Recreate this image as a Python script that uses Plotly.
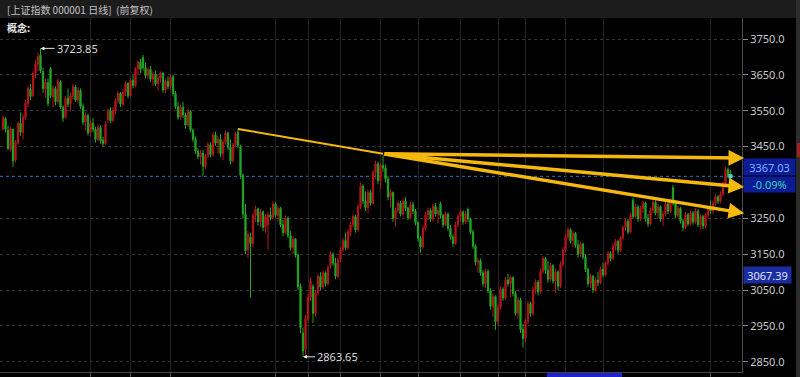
import plotly.graph_objects as go

# ---------------- data ----------------
opens = [
    3500,3528,3495,3442,3498,3412,3460,3515,3490,3530,
    3570,3610,3592,3655,3680,3705,3660,3610,3628,3668,
    3590,3612,3575,3630,3560,3532,3585,3570,3590,3616,
    3580,3606,3562,3518,3536,3490,3515,3498,3470,3503,
    3468,3458,3525,3550,3522,3552,3578,3598,3568,3602,
    3626,3592,3635,3620,3668,3685,3698,3670,3648,3665,
    3638,3652,3625,3642,3655,3608,3632,3618,3645,3598,
    3562,3532,3560,3538,3510,3548,3496,3470,3438,3422,
    3432,3395,3425,3455,3428,3482,3460,3470,3430,3462,
    3488,3448,3410,3455,3490,3450,3370,3262,3162,3198,
    3180,3258,3276,3240,3268,3225,3232,3260,3252,3290,
    3258,3278,3232,3210,3250,3202,3168,3192,3148,3060,
    2930,2885,2970,3030,3060,2985,3042,3088,3058,3098,
    3068,3118,3150,3125,3088,3135,3162,3188,3168,3212,
    3232,3255,3218,3282,3340,3298,3280,3322,3292,3378,
    3402,3355,3398,3390,3360,3310,3322,3250,3272,3292,
    3262,3298,3278,3252,3288,3270,3238,3195,3170,3222,
    3260,3272,3248,3284,3262,3290,3258,3232,3262,3222,
    3198,3180,3232,3255,3268,3240,3275,3248,3212,3172,
    3128,3132,3098,3068,3102,3048,3005,3032,2962,3002,
    3052,3028,3078,3068,3085,3040,2985,3022,2940,2915,
    2962,3012,2985,3052,3072,3045,3102,3138,3105,3080,
    3118,3075,3100,3060,3122,3162,3198,3218,3188,3208,
    3175,3150,3178,3142,3108,3068,3088,3050,3078,3070,
    3108,3092,3125,3152,3138,3172,3185,3160,3195,3224,
    3242,3212,3300,3255,3282,3248,3278,3292,3250,3235,
    3272,3295,3265,3282,3248,3262,3290,3270,3335,3292,
    3258,3278,3242,3225,3260,3235,3265,3240,3270,3232,
    3255,3228,3258,3278,3270,3292,3310,3298,3318,3345,
    3386,3372,
]
highs = [
    3538,3532,3508,3505,3500,3468,3520,3545,3540,3580,
    3620,3625,3660,3690,3712,3723.85,3670,3640,3640,3672,
    3620,3618,3640,3635,3565,3590,3612,3600,3625,3622,
    3615,3612,3570,3545,3542,3525,3530,3505,3512,3510,
    3478,3520,3556,3560,3560,3585,3605,3602,3610,3632,
    3630,3640,3650,3672,3690,3695,3706,3685,3672,3675,
    3660,3662,3650,3660,3658,3640,3645,3650,3650,3605,
    3575,3568,3575,3545,3555,3552,3500,3478,3445,3440,
    3440,3430,3462,3462,3490,3492,3480,3485,3470,3495,
    3492,3470,3460,3492,3499,3455,3375,3290,3215,3210,
    3265,3285,3280,3275,3272,3262,3268,3280,3298,3295,
    3285,3282,3245,3258,3255,3215,3200,3195,3152,3068,
    2945,2980,3040,3085,3066,3050,3095,3100,3105,3102,
    3120,3158,3155,3140,3140,3170,3195,3210,3220,3240,
    3262,3260,3290,3350,3345,3325,3330,3330,3385,3410,
    3408,3405,3427,3400,3368,3330,3325,3280,3300,3298,
    3305,3310,3282,3295,3296,3276,3242,3200,3230,3268,
    3280,3278,3290,3293,3280,3296,3262,3268,3266,3232,
    3205,3240,3262,3275,3272,3270,3280,3252,3218,3178,
    3140,3138,3105,3110,3108,3055,3040,3035,3010,3060,
    3058,3085,3095,3090,3088,3048,3030,3028,2955,2970,
    3020,3018,3060,3080,3078,3110,3145,3142,3130,3125,
    3122,3110,3105,3130,3170,3205,3226,3222,3215,3212,
    3190,3185,3182,3150,3112,3095,3092,3085,3100,3115,
    3126,3130,3160,3158,3180,3192,3190,3200,3230,3250,
    3248,3265,3307,3290,3288,3285,3300,3296,3262,3280,
    3302,3300,3290,3286,3270,3298,3296,3305,3343,3296,
    3285,3282,3248,3268,3265,3272,3270,3278,3275,3262,
    3260,3265,3285,3300,3300,3318,3315,3325,3352,3394,
    3392,3385,
]
lows = [
    3495,3490,3440,3436,3393,3405,3455,3480,3470,3525,
    3560,3580,3588,3640,3660,3655,3600,3585,3562,3585,
    3560,3565,3570,3555,3519,3528,3560,3548,3582,3575,
    3570,3555,3510,3495,3480,3478,3490,3462,3465,3458,
    3449,3455,3515,3515,3518,3540,3570,3560,3562,3590,
    3585,3588,3612,3615,3650,3655,3662,3640,3638,3630,
    3620,3618,3605,3628,3600,3598,3610,3608,3590,3555,
    3525,3525,3530,3500,3505,3490,3462,3430,3415,3400,
    3366,3388,3418,3420,3422,3452,3430,3420,3412,3455,
    3440,3400,3405,3448,3445,3360,3250,3150,3140,3028,
    3170,3240,3230,3225,3215,3210,3162,3245,3248,3250,
    3240,3225,3200,3205,3195,3160,3150,3140,3050,2930,
    2863.65,2870,2962,3020,2958,2975,3035,3050,3052,3060,
    3062,3110,3118,3080,3082,3128,3155,3160,3162,3200,
    3225,3210,3212,3275,3290,3270,3265,3285,3288,3360,
    3345,3330,3380,3350,3300,3280,3240,3226,3265,3255,
    3258,3270,3245,3248,3262,3230,3185,3154,3165,3215,
    3245,3240,3242,3255,3235,3250,3225,3228,3215,3190,
    3171,3176,3225,3240,3232,3234,3240,3205,3165,3118,
    3098,3090,3060,3055,3040,2995,2975,2939,2950,2995,
    3020,3022,3060,3030,3032,2978,2970,2930,2889,2905,
    2955,2975,2978,3040,3035,3040,3095,3095,3070,3075,
    3068,3042,3050,3055,3115,3155,3190,3180,3170,3168,
    3140,3142,3135,3100,3060,3055,3042,3045,3060,3065,
    3085,3088,3118,3130,3132,3160,3150,3155,3188,3215,
    3205,3208,3248,3250,3240,3242,3265,3240,3226,3230,
    3265,3258,3248,3240,3228,3255,3262,3265,3285,3250,
    3250,3235,3215,3220,3228,3230,3232,3235,3225,3218,
    3220,3222,3250,3262,3262,3285,3290,3292,3312,3340,
    3362,3352,
]
closes = [
    3530,3498,3445,3500,3410,3462,3515,3490,3532,3572,
    3612,3590,3655,3680,3702,3662,3612,3630,3570,3592,
    3612,3575,3632,3560,3530,3585,3568,3592,3618,3580,
    3608,3562,3518,3538,3488,3515,3498,3470,3505,3466,
    3458,3512,3550,3522,3552,3578,3598,3568,3602,3626,
    3592,3635,3620,3668,3685,3665,3670,3648,3665,3638,
    3652,3625,3642,3655,3608,3632,3618,3645,3598,3562,
    3532,3560,3538,3510,3548,3496,3470,3438,3422,3432,
    3395,3425,3455,3428,3482,3460,3470,3430,3462,3488,
    3448,3410,3455,3485,3452,3370,3262,3160,3205,3180,
    3258,3276,3240,3268,3225,3255,3260,3252,3290,3258,
    3278,3232,3210,3250,3202,3168,3192,3148,3060,2945,
    2880,2970,3030,3075,2985,3042,3088,3058,3098,3068,
    3112,3150,3125,3088,3135,3162,3188,3168,3212,3232,
    3255,3218,3282,3340,3298,3280,3322,3292,3378,3402,
    3355,3398,3390,3360,3310,3322,3250,3272,3292,3262,
    3298,3278,3252,3288,3270,3238,3195,3170,3222,3260,
    3272,3248,3284,3262,3272,3258,3232,3262,3222,3198,
    3180,3232,3255,3268,3240,3262,3248,3212,3172,3128,
    3132,3098,3068,3102,3048,3005,3032,2962,3002,3052,
    3028,3078,3068,3085,3040,2985,3022,2940,2915,2962,
    3012,2985,3052,3072,3045,3102,3138,3105,3080,3118,
    3075,3100,3060,3122,3162,3198,3218,3188,3208,3175,
    3150,3178,3142,3108,3068,3088,3050,3078,3070,3108,
    3092,3125,3152,3138,3172,3185,3160,3195,3224,3242,
    3212,3258,3255,3282,3248,3278,3292,3250,3235,3272,
    3295,3265,3282,3248,3262,3290,3270,3298,3292,3258,
    3278,3242,3225,3260,3235,3265,3240,3270,3232,3255,
    3228,3258,3278,3270,3292,3310,3298,3318,3345,3386,
    3370,3367.03,
]
bar_index = list(range(len(closes)))

price_ticks = [2850, 2950, 3050, 3150, 3250, 3450, 3550, 3650, 3750]
grid_bars = [35, 51, 67, 109, 122, 135, 151, 166, 183, 198, 209, 225, 240, 283]

high_label = (15, 3723.85)
low_label = (120, 2863.65)
last_price = 3367.03
last_change = "-0.09%"
marker_price = 3067.39

# trend lines: thin segment + three arrows fanning out from the July peak
trend_thin = [(94, 3499), (152, 3430)]
arrow_origin = (152, 3430)
arrow_tips = [(296.5, 3418), (296.5, 3337), (296.5, 3264)]

title_text = "[上证指数 000001 日线]&nbsp;&nbsp;(前复权)"
concept_text = "概念:"

# ---------------- styling ----------------
RED = "#b8161c"
GREEN = "#22a824"
YELLOW = "#f5b80c"
W, H = 800, 377
ML, MR, MT, MB = 0, 58, 18, 5
PW, PH = W - ML - MR, H - MT - MB
Y_TOP, Y_BOT = 3808.6, 2821.3
X_LO, X_HI = -1.2, 295.6

fig = go.Figure()
fig.add_trace(go.Candlestick(
    x=bar_index, open=opens, high=highs, low=lows, close=closes,
    increasing=dict(line=dict(color=RED, width=1), fillcolor=RED),
    decreasing=dict(line=dict(color=GREEN, width=1), fillcolor=GREEN),
    whiskerwidth=0, showlegend=False, hoverinfo="skip",
))
fig.add_trace(go.Scatter(
    x=[bar_index[-1]], y=[last_price], mode="markers",
    marker=dict(size=4, color="#3ee0c0", symbol="square"),
    showlegend=False, hoverinfo="skip",
))

shapes = []
# header bar
shapes.append(dict(type="rect", xref="paper", yref="paper", x0=-0.01, x1=W / PW + 0.01,
                   y0=1, y1=1 + MT / PH + 0.01, fillcolor="#1c1c1c", line=dict(width=0), layer="above"))
# right scrollbar strip
shapes.append(dict(type="rect", xref="paper", yref="paper", x0=796 / PW, x1=W / PW + 0.01,
                   y0=-MB / PH - 0.01, y1=1 + MT / PH + 0.01, fillcolor="#2c2c2c", line=dict(width=0), layer="above"))
shapes.append(dict(type="rect", xref="paper", yref="paper", x0=797 / PW, x1=W / PW + 0.01,
                   y0=1 - (157 - MT) / PH, y1=1 - (143 - MT) / PH, fillcolor="#a02020", line=dict(width=0), layer="above"))
# current price dotted line
shapes.append(dict(type="line", xref="paper", yref="y", x0=0, x1=1, y0=last_price, y1=last_price,
                   line=dict(color="#2f6fc0", width=1, dash="dot"), layer="below"))
# thin part of trend line
shapes.append(dict(type="line", xref="x", yref="y",
                   x0=trend_thin[0][0], y0=trend_thin[0][1], x1=trend_thin[1][0], y1=trend_thin[1][1],
                   line=dict(color=YELLOW, width=2)))
# bottom blue scroll marker
shapes.append(dict(type="rect", xref="x", yref="paper", x0=217.6, x1=247.6,
                   y0=-MB / PH, y1=-1 / PH, fillcolor="#1c24c8", line=dict(width=0)))

annotations = []
for tx, ty in arrow_tips:
    annotations.append(dict(x=tx, y=ty, ax=arrow_origin[0], ay=arrow_origin[1],
                            xref="x", yref="y", axref="x", ayref="y", text="",
                            showarrow=True, arrowhead=2, arrowsize=0.9, arrowwidth=3.5,
                            arrowcolor=YELLOW))
# high / low labels
annotations.append(dict(x=high_label[0], y=high_label[1], xref="x", yref="y",
                        text=f"{high_label[1]:.2f}", showarrow=True, ax=14, ay=0,
                        xanchor="left", arrowhead=2, arrowsize=0.8, arrowwidth=1,
                        arrowcolor="#e8e8e8", font=dict(color="#d8d8d8", size=11, family="Noto Sans")))
annotations.append(dict(x=low_label[0], y=low_label[1], xref="x", yref="y",
                        text=f"{low_label[1]:.2f}", showarrow=True, ax=12, ay=0,
                        xanchor="left", arrowhead=2, arrowsize=0.8, arrowwidth=1,
                        arrowcolor="#e8e8e8", font=dict(color="#d8d8d8", size=11, family="Noto Sans")))
# right-side price boxes
annotations.append(dict(x=1, y=last_price, xref="paper", yref="y", xanchor="left", yanchor="bottom",
                        text=f"{last_price:.2f}", showarrow=False, bgcolor="#0c1c96", width=49, height=14,
                        align="center", borderpad=1, xshift=1,
                        font=dict(color="#78b8ff", size=11, family="Noto Sans")))
annotations.append(dict(x=1, y=last_price, xref="paper", yref="y", xanchor="left", yanchor="top",
                        text=last_change, showarrow=False, bgcolor="#0c1c96", width=49, height=13,
                        align="center", borderpad=1, xshift=1,
                        font=dict(color="#38d4b0", size=11, family="Noto Sans")))
annotations.append(dict(x=1, y=marker_price, xref="paper", yref="y", xanchor="left", yanchor="bottom",
                        text=f"{marker_price:.2f}", showarrow=False, bgcolor="#1a2ca0", width=45, height=14,
                        align="center", borderpad=1, xshift=1,
                        font=dict(color="#dfe6ff", size=11, family="Noto Sans")))
# header texts
annotations.append(dict(x=5 / PW, y=1 + (MT - 9) / PH, xref="paper", yref="paper",
                        xanchor="left", yanchor="middle", text=title_text, showarrow=False,
                        font=dict(color="#c4c4c4", size=10, family="Noto Sans CJK SC")))
annotations.append(dict(x=5 / PW, y=1 - (27 - MT) / PH, xref="paper", yref="paper",
                        xanchor="left", yanchor="middle", text=f"<b>{concept_text}</b>", showarrow=False,
                        font=dict(color="#e6e6e6", size=10, family="Noto Sans CJK SC")))

fig.update_layout(
    width=W, height=H,
    margin=dict(l=ML, r=MR, t=MT, b=MB, autoexpand=False),
    paper_bgcolor="#000000", plot_bgcolor="#000000",
    shapes=shapes, annotations=annotations,
    showlegend=False, hovermode=False,
    xaxis=dict(range=[X_LO, X_HI], rangeslider=dict(visible=False),
               tickvals=grid_bars, showticklabels=False, ticks="outside", ticklen=5,
               tickcolor="#4a4a4a", showgrid=True, gridcolor="#222222", gridwidth=1,
               showline=True, linecolor="#444444", zeroline=False, fixedrange=True),
    yaxis=dict(range=[Y_BOT, Y_TOP], side="right", tickvals=price_ticks,
               ticktext=[f"{v:.1f}" for v in price_ticks],
               ticks="outside", ticklen=5, tickcolor="#8a8a8a",
               tickfont=dict(color="#c8c8c8", size=11, family="Noto Sans"),
               showgrid=True, gridcolor="#333333", griddash="dot", gridwidth=1,
               showline=True, linecolor="#4a4a4a", zeroline=False, fixedrange=True),
)

fig.write_html(
    "out.html",
    config={"displayModeBar": False},
    post_script="document.body.style.margin='0';document.body.style.overflow='hidden';document.body.style.background='#000';",
)
